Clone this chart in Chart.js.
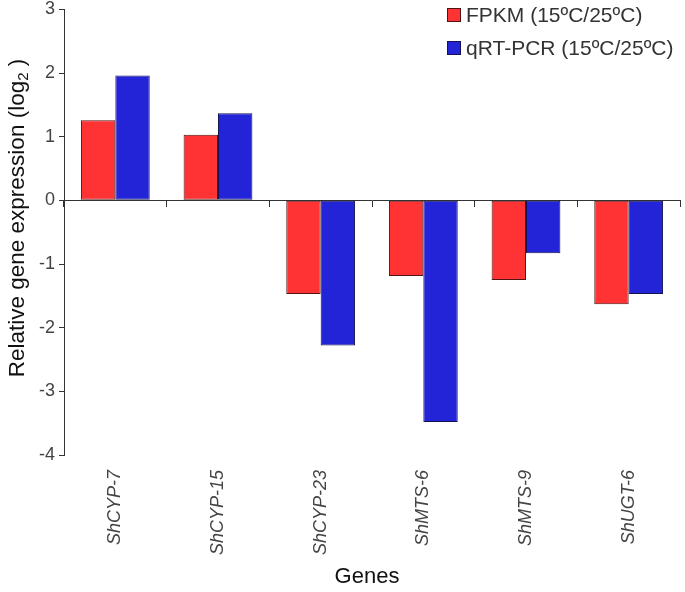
<!DOCTYPE html>
<html>
<head>
<meta charset="utf-8">
<script src="https://cdn.jsdelivr.net/npm/chart.js@4"></script>
<style>
  html, body { margin: 0; padding: 0; background: #fff; }
  #wrap { width: 685px; height: 592px; position: relative; }
</style>
</head>
<body>
<div id="wrap"><canvas id="geneChart"></canvas></div>
<script>
// gene names and log2 ratios
const genes = ['ShCYP-7', 'ShCYP-15', 'ShCYP-23', 'ShMTS-6', 'ShMTS-9', 'ShUGT-6'];
const fpkm = [1.26, 1.03, -1.47, -1.19, -1.25, -1.63];
const qpcr = [1.96, 1.37, -2.28, -3.48, -0.83, -1.47];
const yTicks = [3, 2, 1, 0, -1, -2, -3, -4];
const seriesNames = ['FPKM (15ºC/25ºC)', 'qRT-PCR (15ºC/25ºC)'];

const FONT = '"Liberation Sans", Arial, sans-serif';

// axis titles + legend drawn by hand (subscript, legend inside plot)
const extras = {
  id: 'extras',
  afterDraw(chart) {
    const c = chart.ctx;
    c.save();
    c.fillStyle = '#111';
    c.textBaseline = 'middle';

    // y title with subscript 2
    const main = 'Relative gene expression (log';
    const tail = ' )';
    c.font = '22.5px ' + FONT;
    const w1 = c.measureText(main).width;
    const w3 = c.measureText(tail).width;
    c.font = '15px ' + FONT;
    const w2 = c.measureText('2').width;
    const total = w1 + w2 + w3;
    c.translate(18, 218);
    c.rotate(-Math.PI / 2);
    let x = -total / 2;
    c.textAlign = 'left';
    c.font = '22.5px ' + FONT;
    c.fillText(main, x, 0);
    x += w1;
    c.font = '15px ' + FONT;
    c.fillText('2', x, 6);
    x += w2;
    c.font = '22.5px ' + FONT;
    c.fillText(tail, x, 0);
    c.setTransform(1, 0, 0, 1, 0, 0);

    // x title
    c.textAlign = 'center';
    c.font = '22px ' + FONT;
    c.fillText('Genes', 367, 577);

    // legend
    c.textAlign = 'left';
    c.font = '21px ' + FONT;
    chart.data.datasets.forEach((ds, i) => {
      const cy = 15 + i * 33;
      c.fillStyle = ds.backgroundColor;
      c.fillRect(447, cy - 7, 14, 14);
      c.strokeStyle = ds.borderColor;
      c.lineWidth = 1;
      c.strokeRect(447.5, cy - 6.5, 13, 13);
      c.fillStyle = '#333';
      c.fillText(ds.label, 466, cy + 1);
    });
    c.restore();
  }
};

new Chart(document.getElementById('geneChart'), {
  type: 'bar',
  data: {
    labels: genes,
    datasets: [
      {
        label: seriesNames[0],
        data: fpkm,
        backgroundColor: '#ff3333',
        borderColor: '#4e1414',
        borderWidth: 1,
        borderSkipped: false,
        categoryPercentage: 0.67,
        barPercentage: 1
      },
      {
        label: seriesNames[1],
        data: qpcr,
        backgroundColor: '#2323d8',
        borderColor: '#14144e',
        borderWidth: 1,
        borderSkipped: false,
        categoryPercentage: 0.67,
        barPercentage: 1
      }
    ]
  },
  options: {
    responsive: true,
    maintainAspectRatio: false,
    animation: false,
    layout: { padding: { top: 0, right: 5, left: 0, bottom: 0 } },
    plugins: {
      legend: { display: false },
      tooltip: { enabled: false }
    },
    scales: {
      x: {
        grid: { display: false },
        border: { display: false },
        ticks: {
          minRotation: 90,
          maxRotation: 90,
          padding: 7,
          color: '#444',
          font: { family: FONT, size: 18, style: 'italic' }
        },
        afterFit(scale) { scale.height = 137; }
      },
      x0: {
        position: { y: 0 },
        grid: {
          drawOnChartArea: false,
          drawTicks: true,
          tickLength: 6,
          color: '#333',
          offset: true
        },
        border: { display: true, color: '#333', width: 1 },
        ticks: { display: false }
      },
      y: {
        min: -4,
        max: 3,
        afterBuildTicks(scale) { scale.ticks = yTicks.map(v => ({ value: v })); },
        grid: {
          drawOnChartArea: false,
          drawTicks: true,
          tickLength: 5,
          color: '#333'
        },
        border: { display: true, color: '#333', width: 1 },
        ticks: {
          padding: 4,
          color: '#444',
          font: { family: FONT, size: 18, lineHeight: 0.6 }
        },
        afterFit(scale) { scale.width = 64; }
      }
    }
  },
  plugins: [extras]
});
</script>
</body>
</html>
